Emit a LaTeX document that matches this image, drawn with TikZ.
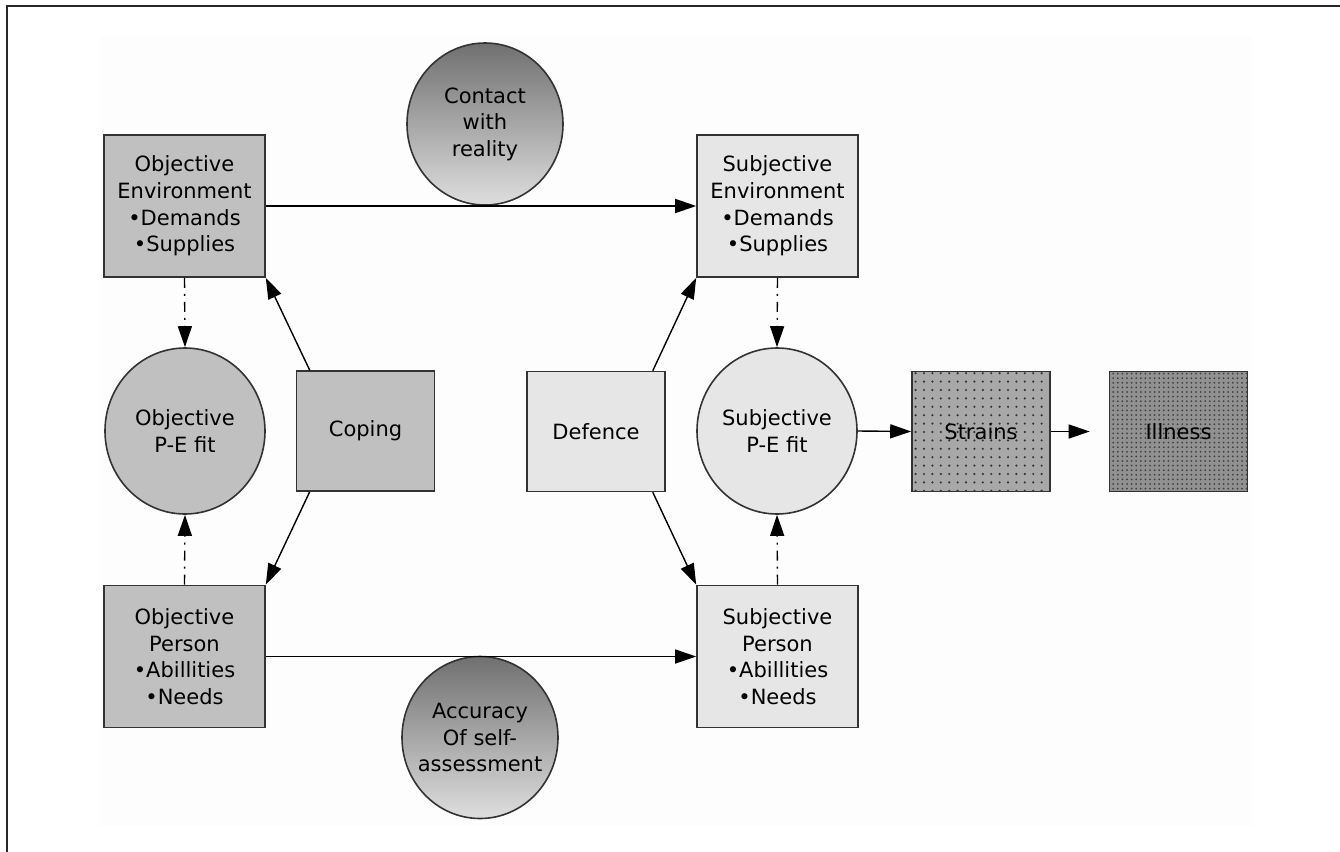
\documentclass[tikz,border=0pt]{standalone}
\usepackage{fontspec}
\setmainfont{DejaVu Sans}
\usetikzlibrary{shapes.geometric,arrows.meta,patterns.meta}
\definecolor{cdark}{RGB}{192,192,192}
\definecolor{clight}{RGB}{230,230,230}
\definecolor{cstrain}{RGB}{168,168,168}
\definecolor{cill}{RGB}{145,145,145}
\definecolor{cbg}{RGB}{253,253,253}
\definecolor{cframe}{RGB}{40,40,40}
\definecolor{gtop}{RGB}{112,112,112}
\definecolor{gbot}{RGB}{222,222,222}
\begin{document}
\begin{tikzpicture}[x=0.5pt,y=-0.5pt,
  txt/.style={font=\fontsize{10.5}{13.3}\selectfont, align=center},
  box/.style={txt, draw=black!80, line width=0.8pt, inner sep=0pt,
    minimum width=80.5pt, minimum height=71pt},
  darkbox/.style={box, fill=cdark},
  lightbox/.style={box, fill=clight},
  smallbox/.style={minimum width=69pt, minimum height=60pt},
  oval/.style={ellipse, draw=black!80, line width=0.8pt, inner sep=0pt},
  bigoval/.style={oval, minimum width=80pt, minimum height=83pt},
  gradoval/.style={oval, minimum width=78pt, minimum height=81pt,
    top color=gtop, bottom color=gbot},
  arr/.style={-{Triangle[length=10.5pt,width=7pt]}, line width=0.7pt, black},
  dd/.style={arr, dash pattern=on 5pt off 3pt on 1pt off 3pt}]
\useasboundingbox (0,0) rectangle (1340,852);
\fill[cbg] (100,36) rectangle (1252,826);
\draw[cframe, line width=1.2pt] (7,852) -- (7,6) -- (1340,6);

% boxes
\node[darkbox] (oenv) at (184.5,206) {Objective\\Environment\\•Demands\\•Supplies};
\node[lightbox] (senv) at (777.5,206) {Subjective\\Environment\\•Demands\\•Supplies};
\node[darkbox] (operson) at (184.5,656.5) {Objective\\Person\\•Abillities\\•Needs};
\node[lightbox] (sperson) at (777.5,656.5) {Subjective\\Person\\•Abillities\\•Needs};
\node[darkbox, smallbox] (coping) at (365.5,431) {Coping};
\node[lightbox, smallbox] (defence) at (596,431.5) {Defence};
\node[box, smallbox, preaction={fill=cstrain},
  pattern={Dots[distance=4.2pt, radius=0.6pt]}, pattern color=black!80] (strains) at (981,431.5) {};
\node[txt] (strainst) at (strains) {Strains};
\node[box, smallbox, preaction={fill=cill},
  pattern={Dots[distance=2.3pt, radius=0.5pt]}, pattern color=black!75] (illness) at (1178.5,431.5) {};
\node[txt] (illnesst) at (illness) {Illness};

% ovals
\node[bigoval, fill=cdark] (opefit) at (185,431) {};
\node[txt] (opefitt) at (opefit) {Objective\\P-E fit};
\node[bigoval, fill=clight] (spefit) at (777,431) {};
\node[txt] (spefitt) at (spefit) {Subjective\\P-E fit};
\node[gradoval] (contact) at (485,124) {};
\node[txt] (contactt) at (contact) {Contact\\with\\reality};
\node[gradoval] (accuracy) at (480,737.5) {};
\node[txt] (accuracyt) at (accuracy) {Accuracy\\Of self-\\assessment};

% connectors
\draw[arr] (oenv.east) -- (senv.west);
\draw[arr] (operson.east) -- (sperson.west);
\draw[arr] ([xshift=7pt]coping.north west) -- (oenv.south east);
\draw[arr] ([xshift=7pt]coping.south west) -- (operson.north east);
\draw[arr] ([xshift=-6.5pt]defence.north east) -- (senv.south west);
\draw[arr] ([xshift=-6.5pt]defence.south east) -- (sperson.north west);
\draw[dd] (oenv.south) -- (opefit.north);
\draw[dd] (operson.north) -- (opefit.south);
\draw[dd] (senv.south) -- (spefit.north);
\draw[dd] (sperson.north) -- (spefit.south);
\draw[arr] (spefit.east) -- (strains.west);
\draw[arr, shorten >=9.5pt] (strains.east) -- (illness.west);
\end{tikzpicture}
\end{document}
